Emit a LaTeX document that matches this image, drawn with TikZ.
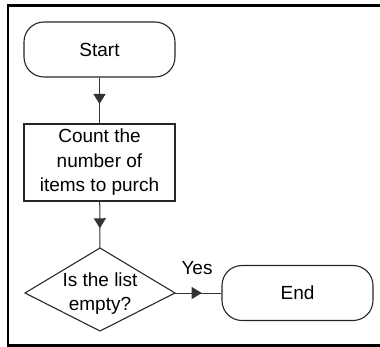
\documentclass[tikz,border=0pt]{standalone}
\usepackage{fontspec}
\setmainfont{Liberation Sans}
\usetikzlibrary{arrows.meta,decorations.markings,calc}
\begin{document}
\begin{tikzpicture}[x=1pt,y=-1pt,
  font=\fontsize{19}{24.5}\selectfont,
  term/.style={draw=black!85, rounded corners=20pt, minimum width=151pt, minimum height=55pt, line width=1.1pt, inner sep=0pt},
  proc/.style={draw=black!85, minimum width=151pt, minimum height=77pt, line width=1.1pt, align=center, inner sep=0pt},
  shapeline/.style={draw=black!85, line width=1.1pt, line join=miter},
  flow/.style={draw=black!80, line width=1pt, postaction={decorate},
    decoration={markings, mark=at position 0.5 with {\arrow[xshift=3.5pt]{Triangle[width=12pt,length=10pt]}}}},
  framel/.style={line width=2.6pt, line join=miter}
]
\useasboundingbox (0,0) rectangle (380,347);
% frame
\draw[framel] (380,5.5) -- (8,5.5) -- (8,345.5) -- (380,345.5);
% nodes
\node[term] (start) at (99.5,49.5) {Start};
\node[proc] (count) at (99.5,162.5) {Count the\\number of\\items to purch};
\coordinate (qt) at (100,248);
\coordinate (qr) at (175,293);
\coordinate (qb) at (100,331);
\coordinate (ql) at (25,293);
\draw[shapeline] (qt) -- (qr) -- (qb) -- (ql) -- cycle;
\node[align=center, inner sep=0pt] (qtext) at (100,293.5) {Is the list\\empty?};
\node[term] (end) at (297.5,293) {End};
\node[inner sep=0pt] (yes) at (197,268) {Yes};
% connectors
\draw[flow] (start) -- (count);
\draw[flow] (count) -- (qt);
\draw[flow] (qr) -- (end);
\end{tikzpicture}
\end{document}
